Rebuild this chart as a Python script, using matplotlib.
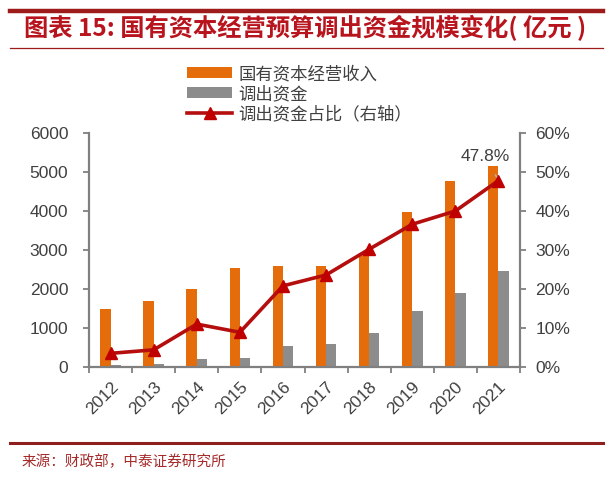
import matplotlib
matplotlib.use("Agg")
import matplotlib.pyplot as plt
from matplotlib.lines import Line2D
from matplotlib.patches import Patch
import numpy as np

plt.rcParams['font.family'] = ['Noto Sans CJK SC', 'DejaVu Sans']
NUMFONT = ['Liberation Sans', 'DejaVu Sans']

years = ['2012', '2013', '2014', '2015', '2016', '2017', '2018', '2019', '2020', '2021']
revenue = [1480, 1700, 2000, 2550, 2600, 2580, 2930, 3970, 4770, 5160]
transfer = [50, 70, 215, 225, 540, 600, 880, 1445, 1905, 2465]
ratio = [3.5, 4.4, 11.0, 8.9, 20.8, 23.6, 30.2, 36.6, 40.0, 47.8]
left_ticks = [0, 1000, 2000, 3000, 4000, 5000, 6000]
right_ticks = [0, 10, 20, 30, 40, 50, 60]

ORANGE = '#E46C0A'
GRAY = '#8C8C8C'
LINE_RED = '#B50E0E'
AX_GRAY = '#808080'
TXT = '#404040'

W, H = 611, 480
fig = plt.figure(figsize=(W / 100, H / 100), dpi=100)

def fx(px):
    return px / W

def fy(py):
    return 1 - py / H

# header/footer rules
fig.add_artist(Line2D([fx(10), fx(603)], [fy(11), fy(11)], color='#9E1B1B', lw=3.2))
fig.add_artist(Line2D([fx(10), fx(603)], [fy(48), fy(48)], color='#9E1B1B', lw=0.9))
fig.add_artist(Line2D([fx(10), fx(603)], [fy(443), fy(443)], color='#8E1F1F', lw=2.2))

fig.text(fx(24), fy(28), '图表 15: 国有资本经营预算调出资金规模变化( 亿元 )', color='#B8141E',
         fontsize=17.5, fontweight='bold', ha='left', va='center')
fig.text(fx(22), fy(462), '来源：财政部，中泰证券研究所', color='#A52A2A',
         fontsize=10.5, ha='left', va='center')

x0, x1, y0, y1 = 89, 520, 133, 367
ax = fig.add_axes([fx(x0), fy(y1), fx(x1) - fx(x0), (y1 - y0) / H])
x = np.arange(len(years))
bw = 0.24
ax.bar(x - bw / 2, revenue, width=bw, color=ORANGE, zorder=2)
ax.bar(x + bw / 2, transfer, width=bw, color=GRAY, zorder=2)
ax.set_xlim(-0.5, len(years) - 0.5)
ax.set_ylim(0, 6000)
ax.set_yticks(left_ticks)
ax.set_yticklabels([str(v) for v in left_ticks], family=NUMFONT)

for s in ['top', 'right']:
    ax.spines[s].set_visible(False)
for s in ['left', 'bottom']:
    ax.spines[s].set_color(AX_GRAY)
    ax.spines[s].set_linewidth(1.6)

ax.set_xticks(x)
ax.set_xticklabels(years, rotation=45, ha='right', va='top', rotation_mode='anchor', family=NUMFONT)
ax.tick_params(axis='x', which='major', length=0, pad=9, labelsize=12.5, labelcolor=TXT)
ax.set_xticks(np.arange(-0.5, len(years)), minor=True)
ax.tick_params(axis='x', which='minor', length=4.5, width=1.3, color=AX_GRAY, direction='out')
ax.tick_params(axis='y', length=4.5, width=1.3, color=AX_GRAY, labelsize=12.5, labelcolor=TXT, pad=10.5)

ax2 = ax.twinx()
ax2.plot(x, ratio, color=LINE_RED, lw=2.6, marker='^', markersize=8, markerfacecolor='#C00000',
         markeredgecolor='#C00000', zorder=3)
ax2.set_ylim(0, 60)
ax2.set_yticks(right_ticks)
ax2.set_yticklabels([f'{v}%' for v in right_ticks], family=NUMFONT)
for s in ['top', 'left', 'bottom']:
    ax2.spines[s].set_visible(False)
ax2.spines['right'].set_color(AX_GRAY)
ax2.spines['right'].set_linewidth(1.6)
ax2.tick_params(axis='y', length=4.5, width=1.3, color=AX_GRAY, labelsize=12.5, labelcolor=TXT, pad=6.5)

ax2.annotate(f'{ratio[-1]}%', xy=(x[-1], ratio[-1]), xytext=(x[-1] - 0.3, ratio[-1] + 6.3),
             ha='center', va='center', fontsize=12.5, color=TXT, family=NUMFONT,
             arrowprops=dict(arrowstyle='-', color='#B0B0B0', lw=1.2, shrinkA=7, shrinkB=3))

handles = [Patch(facecolor=ORANGE), Patch(facecolor=GRAY),
           Line2D([], [], color=LINE_RED, lw=2.6, marker='^', markersize=8,
                  markerfacecolor='#C00000', markeredgecolor='#C00000')]
labels = ['国有资本经营收入', '调出资金', '调出资金占比（右轴）']
fig.legend(handles, labels, loc='upper left', bbox_to_anchor=(fx(187), fy(65)), frameon=False,
           fontsize=12.5, labelcolor=TXT, handlelength=2.6, handleheight=0.6,
           handletextpad=0.35, labelspacing=0.12, borderpad=0, borderaxespad=0)

fig.savefig('out.png', dpi=100)
